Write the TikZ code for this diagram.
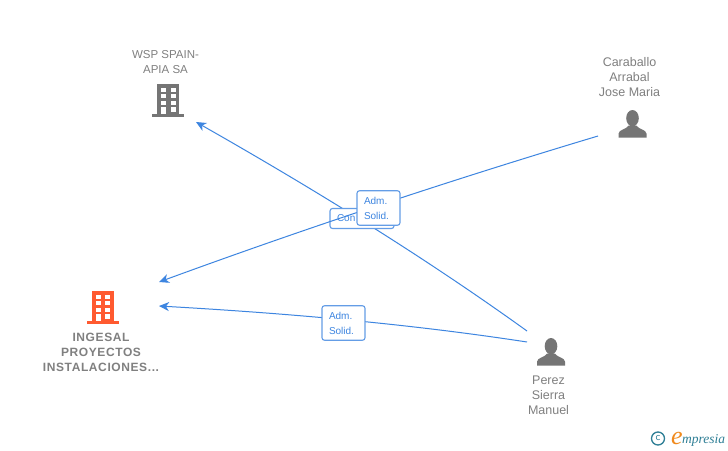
\documentclass[tikz,border=0pt]{standalone}
\usepackage{fontspec}
\setmainfont{Liberation Sans}
\newfontfamily\spacedfont[LetterSpace=5]{Liberation Sans}
\newfontfamily\logofont{Liberation Serif}
\usetikzlibrary{arrows.meta}
\definecolor{edgeblue}{HTML}{3D85E0}
\definecolor{labelgray}{HTML}{808080}
\definecolor{icongray}{HTML}{757575}
\definecolor{iconorange}{HTML}{FF5A30}
\definecolor{logoteal}{HTML}{2F7F96}
\definecolor{logoorange}{HTML}{F08A1D}
\tikzset{
  x=1pt,y=-1pt,
  link/.style={draw=edgeblue,line width=1pt,-{Stealth[length=10pt,width=9pt,inset=3pt]}},
  tagbox/.style={draw=edgeblue!80,line width=1.1pt,fill=white,rounded corners=2.5pt,text=edgeblue,font=\fontsize{10}{15}\selectfont,align=left,inner sep=0pt},
  entity/.style={text=labelgray,align=center,inner sep=0pt,font=\fontsize{12.5}{15}\selectfont},
  pics/building/.style={code={
    \fill[#1] (-11,-33) rectangle (11,-2);
    \fill[#1] (-16,-2.5) rectangle (16,0.5);
    \fill[white] (-7.3,-29) rectangle (-2.3,-24.7);
    \fill[white] (2.3,-29) rectangle (7.3,-24.7);
    \fill[white] (-7.3,-22.3) rectangle (-2.3,-18.3);
    \fill[white] (2.3,-22.3) rectangle (7.3,-18.3);
    \fill[white] (-7.3,-16) rectangle (-2.3,-12);
    \fill[white] (2.3,-16) rectangle (7.3,-12);
    \fill[white] (-7.3,-9.7) rectangle (-2.3,-2.5);
    \fill[white] (2.3,-9.7) rectangle (7.3,-5);
  }},
  pics/person/.style={code={
    \fill[icongray] (0,-19.5) ellipse [x radius=6.3,y radius=8.2];
    \fill[icongray] (-14,0) -- (-14,-4) .. controls (-14,-8) and (-6,-8.5) .. (-4,-12) -- (4,-12) .. controls (6,-8.5) and (14,-8) .. (14,-4) -- (14,0) -- cycle;
  }}
}
\begin{document}
\begin{tikzpicture}
\useasboundingbox (0,0) rectangle (728,450);
\fill[white] (0,0) rectangle (728,450);
% free ends of the connectors
\coordinate (perezA) at (527,331);
\coordinate (perezB) at (527,342);
\coordinate (cab) at (598,136);
\coordinate (wspEnd) at (196,122);
\coordinate (ingA) at (159,282);
\coordinate (ingB) at (159,306);
% icons
\pic at (168.3,116.5) {building=icongray};
\pic at (103,323.5) {building=iconorange};
\pic at (632.5,137.7) {person};
\pic at (551,365.7) {person};
% labels
\node[entity,font=\fontsize{11.5}{15}\selectfont] (wsp) at (165.5,62.5) {WSP SPAIN-\\APIA SA};
\node[entity] (caraballo) at (629.5,77) {Caraballo\\Arrabal\\Jose Maria};
\node[entity] (perez) at (548.5,395) {Perez\\Sierra\\Manuel};
\node[entity,font=\fontsize{12}{15}\selectfont\bfseries\spacedfont] (ingesal) at (101,352) {INGESAL\\PROYECTOS\\INSTALACIONES...};
% connectors and their tags
\draw[link] (perezA) .. controls (420.9,254.6) and (309.6,186.6) .. (wspEnd);
\node[tagbox,minimum width=64pt,minimum height=20pt,text width=50pt] (con) at (362,218.5) {Con};
\draw[link] (cab) .. controls (450.2,180.3) and (303.9,228.9) .. (ingA);
\node[tagbox,minimum width=43pt,minimum height=34.5pt,text width=29pt] (adm1) at (378.5,208) {Adm.\\Solid.};
\draw[link] (perezB) .. controls (405,323.3) and (282.3,313) .. (ingB);
\node[tagbox,minimum width=43pt,minimum height=34.5pt,text width=29pt] (adm2) at (343.5,323) {Adm.\\Solid.};
% logo
\node[circle,draw=logoteal,line width=1.3pt,text=logoteal,inner sep=0pt,minimum size=13pt,font=\fontsize{11}{11}\selectfont\sffamily] (copy) at (658,438.5) {c};
\node[anchor=base west,inner sep=0pt,text=logoorange,font=\fontsize{26}{26}\selectfont\itshape\logofont] (logoe) at (671,444) {e};
\node[anchor=base west,inner sep=0pt,text=logoteal,font=\fontsize{13.5}{14}\selectfont\itshape\logofont] (logotext) at (682,443.5) {mpresia};
\end{tikzpicture}
\end{document}
